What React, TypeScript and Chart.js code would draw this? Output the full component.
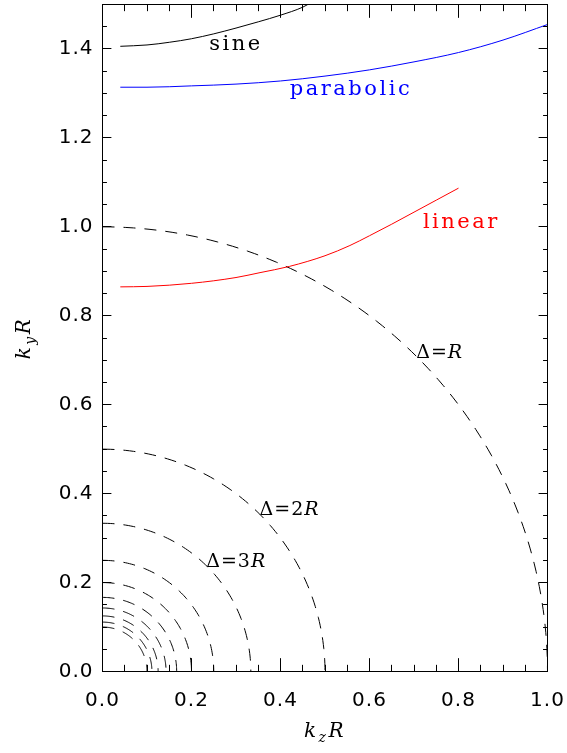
import React, { useEffect, useRef } from 'react';
import { Chart, registerables } from 'chart.js';

Chart.register(...registerables);

// ---- axes ----
const xMin = 0;
const xMax = 1.0;
const yMin = 0;
const yMax = 1.5;
const xTicks = [0, 0.2, 0.4, 0.6, 0.8, 1.0];
const xTickLabels = ['0.0', '0.2', '0.4', '0.6', '0.8', '1.0'];
const yTicks = [0, 0.2, 0.4, 0.6, 0.8, 1.0, 1.2, 1.4];
const yTickLabels = ['0.0', '0.2', '0.4', '0.6', '0.8', '1.0', '1.2', '1.4'];
const minorStep = 0.05;

// ---- curves ----
const sineX = [0.04, 0.1, 0.15, 0.2, 0.25, 0.3, 0.35, 0.4, 0.45, 0.47];
const sineY = [1.406, 1.409, 1.415, 1.423, 1.434, 1.447, 1.461, 1.476, 1.494, 1.505];

const parabolicX = [0.04, 0.1, 0.2, 0.3, 0.4, 0.5, 0.6, 0.7, 0.8, 0.9, 1.0];
const parabolicY = [1.314, 1.314, 1.317, 1.321, 1.328, 1.339, 1.353, 1.371, 1.392, 1.420, 1.455];

const linearX = [0.04, 0.1, 0.2, 0.3, 0.354, 0.42, 0.5, 0.556, 0.6, 0.65, 0.7, 0.75, 0.8];
const linearY = [0.865, 0.866, 0.873, 0.886, 0.897, 0.911, 0.935, 0.958, 0.980, 1.006, 1.033, 1.060, 1.087];

// radii of the dashed quarter circles (Delta = n R  ->  k R = 1/n)
const circleRadii = [1, 1 / 2, 1 / 3, 1 / 4, 1 / 5, 1 / 6, 1 / 7, 1 / 8, 1 / 9, 1 / 10];

// ---- annotation texts (anchored in data coordinates: left, baseline) ----
const curveLabels = [
  { text: 'sine', color: '#000000', x: 0.24, y: 1.398 },
  { text: 'parabolic', color: '#0000ff', x: 0.421, y: 1.297 },
  { text: 'linear', color: '#ff0000', x: 0.72, y: 0.998 },
];
const deltaLabels = [
  { n: '', x: 0.705, y: 0.704 },
  { n: '2', x: 0.353, y: 0.351 },
  { n: '3', x: 0.233, y: 0.234 },
];

const xTitle = { k: 'k', sub: 'z', R: 'R' };
const yTitle = { k: 'k', sub: 'y', R: 'R' };

function arcPoints(r: number) {
  const pts: { x: number; y: number }[] = [];
  const steps = 90;
  for (let i = 0; i <= steps; i++) {
    const t = (Math.PI / 2) * (1 - i / steps);
    pts.push({ x: r * Math.cos(t), y: r * Math.sin(t) });
  }
  return pts;
}

function zip(xs: number[], ys: number[]) {
  return xs.map((x, i) => ({ x, y: ys[i] }));
}

type Part = { text: string; font: string; dy?: number };

function drawParts(ctx: CanvasRenderingContext2D, parts: Part[], x: number, y: number, align: 'left' | 'center') {
  let total = 0;
  for (const p of parts) {
    ctx.font = p.font;
    total += ctx.measureText(p.text).width;
  }
  let cx = align === 'center' ? x - total / 2 : x;
  for (const p of parts) {
    ctx.font = p.font;
    ctx.fillText(p.text, cx, y + (p.dy || 0));
    cx += ctx.measureText(p.text).width;
  }
}

const SERIF = '"DejaVu Serif", serif';
const SANS = '"DejaVu Sans", sans-serif';

const framePlugin = {
  id: 'frameTicks',
  beforeDraw(chart: any) {
    (chart.ctx as any).letterSpacing = '1px';
  },
  afterDraw(chart: any) {
    const ctx: CanvasRenderingContext2D = chart.ctx;
    const a = chart.chartArea;
    const xs = chart.scales.x;
    const ys = chart.scales.y;
    ctx.save();
    (ctx as any).letterSpacing = '0px';
    ctx.strokeStyle = '#000';
    ctx.lineWidth = 1;
    ctx.setLineDash([]);
    ctx.strokeRect(a.left, a.top, a.right - a.left, a.bottom - a.top);
    const w = a.right - a.left;
    const h = a.bottom - a.top;
    const xMaj = 0.02 * h;
    const yMaj = 0.02 * w;
    ctx.beginPath();
    const nx = Math.round((xMax - xMin) / minorStep);
    for (let i = 1; i < nx; i++) {
      const v = xMin + i * minorStep;
      const major = xTicks.some((t) => Math.abs(t - v) < 1e-9);
      const len = major ? xMaj : xMaj / 2;
      const px = Math.floor(xs.getPixelForValue(v)) + 0.5;
      ctx.moveTo(px, a.bottom);
      ctx.lineTo(px, a.bottom - len);
      ctx.moveTo(px, a.top);
      ctx.lineTo(px, a.top + len);
    }
    const ny = Math.round((yMax - yMin) / minorStep);
    for (let i = 1; i < ny; i++) {
      const v = yMin + i * minorStep;
      const major = yTicks.some((t) => Math.abs(t - v) < 1e-9);
      const len = major ? yMaj : yMaj / 2;
      const py = Math.floor(ys.getPixelForValue(v)) + 0.5;
      ctx.moveTo(a.left, py);
      ctx.lineTo(a.left + len, py);
      ctx.moveTo(a.right, py);
      ctx.lineTo(a.right - len, py);
    }
    ctx.stroke();

    // curve labels
    ctx.textBaseline = 'alphabetic';
    ctx.textAlign = 'left';
    (ctx as any).letterSpacing = '2.5px';
    for (const l of curveLabels) {
      ctx.fillStyle = l.color;
      ctx.font = `21px ${SERIF}`;
      ctx.fillText(l.text, xs.getPixelForValue(l.x), ys.getPixelForValue(l.y));
    }
    (ctx as any).letterSpacing = '1px';
    ctx.fillStyle = '#000';
    for (const d of deltaLabels) {
      drawParts(
        ctx,
        [
          { text: 'Δ=' + d.n, font: `19px ${SERIF}` },
          { text: 'R', font: `italic 19px ${SERIF}` },
        ],
        xs.getPixelForValue(d.x),
        ys.getPixelForValue(d.y),
        'left'
      );
    }

    // axis titles
    (ctx as any).letterSpacing = '2.5px';
    const cxMid = (a.left + a.right) / 2;
    drawParts(
      ctx,
      [
        { text: xTitle.k, font: `italic 20px ${SERIF}` },
        { text: xTitle.sub, font: `italic 14px ${SERIF}`, dy: 5 },
        { text: xTitle.R, font: `italic 20px ${SERIF}` },
      ],
      cxMid,
      737,
      'center'
    );
    const cyMid = (a.top + a.bottom) / 2;
    ctx.translate(30, cyMid);
    ctx.rotate(-Math.PI / 2);
    drawParts(
      ctx,
      [
        { text: yTitle.k, font: `italic 20px ${SERIF}` },
        { text: yTitle.sub, font: `italic 14px ${SERIF}`, dy: 5 },
        { text: yTitle.R, font: `italic 20px ${SERIF}` },
      ],
      0,
      0,
      'center'
    );
    ctx.restore();
  },
};

export default function App() {
  const ref = useRef<HTMLCanvasElement | null>(null);

  useEffect(() => {
    document.body.style.margin = '0';
    const canvas = ref.current;
    if (!canvas) return;

    const lineDs = (label: string, xs: number[], ys: number[], color: string) => ({
      label,
      data: zip(xs, ys),
      borderColor: color,
      backgroundColor: color,
      borderWidth: 1,
      pointRadius: 0,
      showLine: true,
      cubicInterpolationMode: 'monotone',
      fill: false,
    });

    const circleDs = circleRadii.map((r, i) => ({
      label: 'circle' + (i + 1),
      data: arcPoints(r),
      borderColor: '#000000',
      borderWidth: 1,
      borderDash: [12, 9],
      pointRadius: 0,
      showLine: true,
      tension: 0,
      fill: false,
    }));

    const tickFont = { family: SANS, size: 20, weight: 'normal' as any };

    const chart = new Chart(canvas, {
      type: 'scatter',
      data: {
        datasets: [
          lineDs('sine', sineX, sineY, '#000000'),
          lineDs('parabolic', parabolicX, parabolicY, '#0000ff'),
          lineDs('linear', linearX, linearY, '#ff0000'),
          ...circleDs,
        ] as any,
      },
      options: {
        animation: false,
        responsive: false,
        devicePixelRatio: 1,
        layout: { padding: { left: 0, right: 19.5, top: 4.5, bottom: 0 } },
        plugins: {
          legend: { display: false },
          tooltip: { enabled: false },
          title: { display: false },
        },
        scales: {
          x: {
            type: 'linear',
            min: xMin,
            max: xMax,
            grid: { display: false, drawTicks: false },
            border: { display: false },
            afterBuildTicks: (s: any) => {
              s.ticks = xTicks.map((v) => ({ value: v }));
            },
            afterFit: (s: any) => {
              s.height = 81.5;
              s.paddingLeft = 0;
              s.paddingRight = 0;
            },
            ticks: {
              autoSkip: false,
              maxRotation: 0,
              padding: 17,
              color: '#000',
              font: tickFont,
              callback: (_v: any, i: number) => xTickLabels[i],
            },
          },
          y: {
            type: 'linear',
            min: yMin,
            max: yMax,
            grid: { display: false, drawTicks: false },
            border: { display: false },
            afterBuildTicks: (s: any) => {
              s.ticks = yTicks.map((v) => ({ value: v }));
            },
            afterFit: (s: any) => {
              s.width = 102.5;
              s.paddingTop = 0;
              s.paddingBottom = 0;
            },
            ticks: {
              autoSkip: false,
              padding: 9,
              color: '#000',
              font: tickFont,
              callback: (_v: any, i: number) => yTickLabels[i],
            },
          },
        },
      } as any,
      plugins: [framePlugin],
    });

    return () => chart.destroy();
  }, []);

  return (
    <div style={{ position: 'absolute', left: 0, top: 0, width: 567, height: 753, background: '#fff' }}>
      <canvas ref={ref} width={567} height={753} style={{ display: 'block' }} />
    </div>
  );
}
